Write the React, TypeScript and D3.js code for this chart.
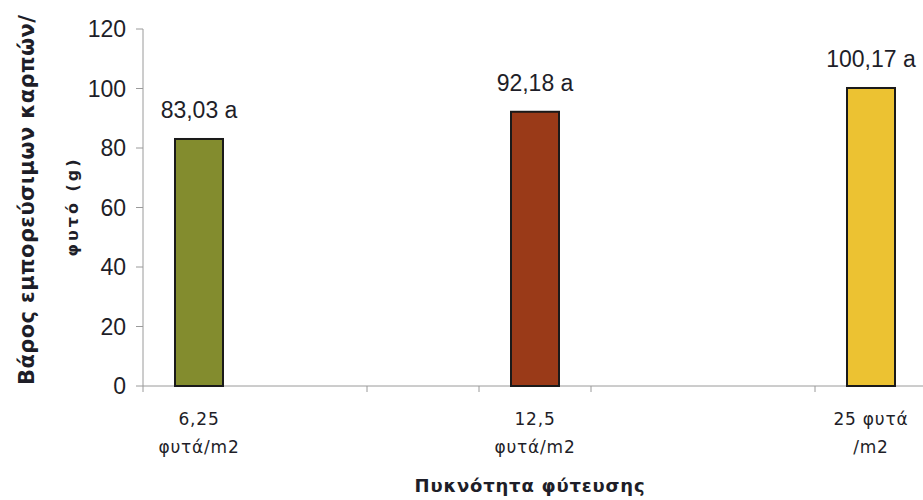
import React from "react";
import * as d3 from "d3";

const slots = ["6,25 φυτά/m2", "", "", "12,5 φυτά/m2", "", "", "25 φυτά /m2"];
const categoryLines: string[][] = [["6,25", "φυτά/m2"], ["12,5", "φυτά/m2"], ["25 φυτά", "/m2"]];
const categorySlot = [0, 3, 6];
const values = [83.03, 92.18, 100.17];
const annotations = ["83,03 a", "92,18 a", "100,17 a"];
const colors = ["#838c2e", "#9a3a18", "#ecc232"];
const yTicks = [0, 20, 40, 60, 80, 100, 120];
const xTickSlots = [0, 2, 3, 4, 6];
const yTitle1 = "Βάρος εμπορεύσιμων καρπών/";
const yTitle2 = "φυτό (g)";
const xTitle = "Πυκνότητα φύτευσης";

const W = 923;
const H = 500;

export default function App() {
  const x = d3.scaleBand<number>().domain(d3.range(slots.length)).range([143, 927]).padding(0);
  const y = d3.scaleLinear().domain([0, 120]).range([386, 29]);
  const bw = 48;
  const textColor = "#1e1e28";
  const axisColor = "#9a9a9a";
  return (
    <svg width={W} height={H} style={{ position: "absolute", left: 0, top: 0, background: "#fff" }}>
      {/* y axis */}
      <line x1={143} x2={143} y1={y(120)} y2={y(0)} stroke={axisColor} strokeWidth={1} />
      {yTicks.map((t) => (
        <g key={t}>
          <line x1={136} x2={143} y1={y(t)} y2={y(t)} stroke={axisColor} />
          <text x={126} y={y(t)} dy="0.36em" textAnchor="end" fontFamily="Liberation Sans, Arial, sans-serif" fontSize={23} fill={textColor}>
            {t}
          </text>
        </g>
      ))}
      {/* x axis */}
      <line x1={143} x2={W} y1={y(0)} y2={y(0)} stroke={axisColor} strokeWidth={1} />
      {xTickSlots.map((s) => (
        <line key={s} x1={x(s)!} x2={x(s)!} y1={y(0)} y2={y(0) + 6} stroke={axisColor} />
      ))}
      {/* bars */}
      {values.map((v, i) => {
        const cx = x(categorySlot[i])! + x.bandwidth() / 2;
        return (
          <g key={i}>
            <rect x={cx - bw / 2} y={y(v)} width={bw} height={y(0) - y(v)} fill={colors[i]} stroke="#1a1a1a" strokeWidth={2} />
            <text x={cx} y={y(v) - 21} textAnchor="middle" fontFamily="Liberation Sans, Arial, sans-serif" fontSize={23} fill={textColor}>
              {annotations[i]}
            </text>
            {categoryLines[i].map((ln, j) => (
              <text key={j} x={cx} y={425 + j * 28} textAnchor="middle" fontFamily="DejaVu Sans, Verdana, sans-serif" fontSize={17} letterSpacing={0.8} fill={textColor}>
                {ln}
              </text>
            ))}
          </g>
        );
      })}
      {/* axis titles */}
      <text x={530} y={492} textAnchor="middle" fontFamily="DejaVu Sans, Verdana, sans-serif" fontWeight="bold" fontSize={18} letterSpacing={0.8} fill={textColor}>
        {xTitle}
      </text>
      <text
        transform="translate(34,200) rotate(-90)"
        textAnchor="middle"
        fontFamily="DejaVu Sans, Verdana, sans-serif"
        fontWeight="bold"
        fontSize={21}
        fill={textColor}
        textLength={370}
        lengthAdjust="spacing"
      >
        {yTitle1}
      </text>
      <text
        transform="translate(78,208) rotate(-90)"
        textAnchor="middle"
        fontFamily="DejaVu Sans, Verdana, sans-serif"
        fontWeight="bold"
        fontSize={16}
        fill={textColor}
        textLength={97}
        lengthAdjust="spacing"
      >
        {yTitle2}
      </text>
    </svg>
  );
}
